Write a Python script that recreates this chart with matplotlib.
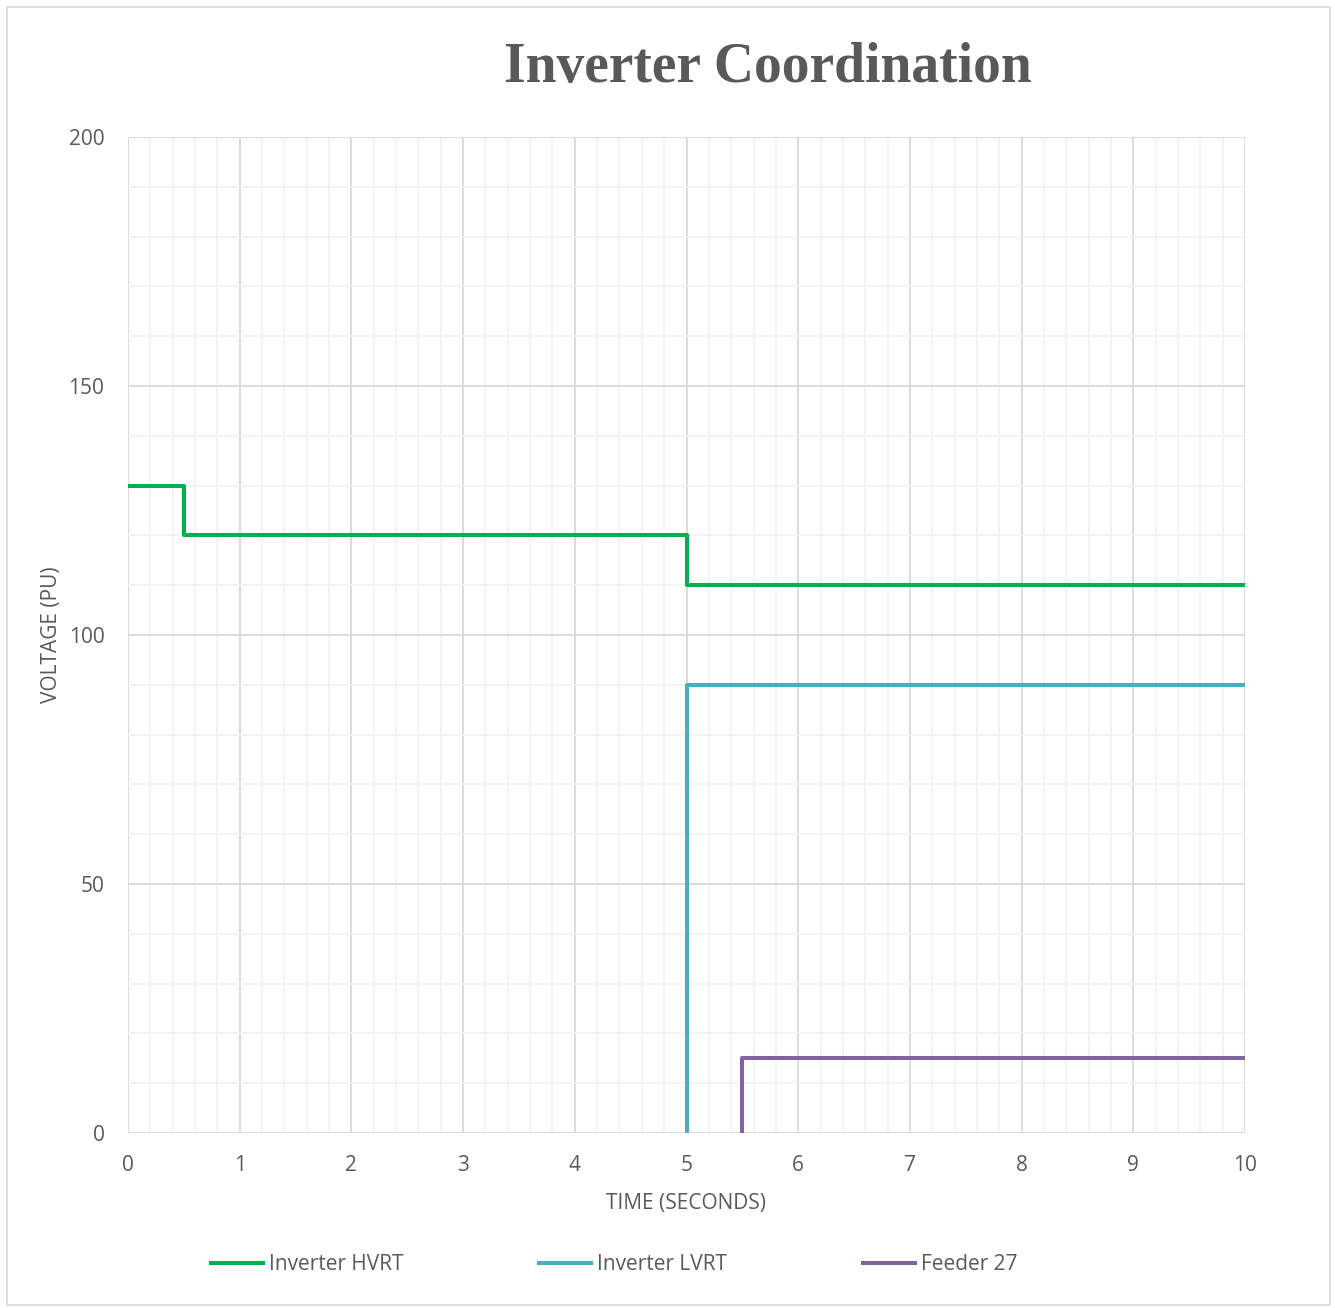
import matplotlib
matplotlib.use("Agg")
import matplotlib.pyplot as plt
from matplotlib.patches import Rectangle
from matplotlib.ticker import MultipleLocator

hvrt_t = [0, 0.5, 0.5, 5, 5, 10]
hvrt_v = [130, 130, 120, 120, 110, 110]
lvrt_t = [5, 5, 10]
lvrt_v = [0, 90, 90]
f27_t = [5.5, 5.5, 10]
f27_v = [0, 15, 15]
x_ticks = [0, 1, 2, 3, 4, 5, 6, 7, 8, 9, 10]
y_ticks = [0, 50, 100, 150, 200]

W, H = 1335, 1308
fig = plt.figure(figsize=(W / 100, H / 100), dpi=100)
fig.patches.append(Rectangle((7 / W, 3 / H), 1323 / W, 1298 / H, transform=fig.transFigure,
                             fill=False, edgecolor="#D9D9D9", linewidth=1.2))
ax = fig.add_axes([128 / W, 1 - 1133 / H, (1245 - 128) / W, (1133 - 137) / H])

txt = "#595959"
sans = ["Open Sans", "DejaVu Sans"]

ax.plot(hvrt_t, hvrt_v, color="#00B050", lw=2.9, label="Inverter HVRT", zorder=3)
ax.plot(lvrt_t, lvrt_v, color="#4BACC6", lw=2.9, label="Inverter LVRT", zorder=3)
ax.plot(f27_t, f27_v, color="#8064A2", lw=2.9, label="Feeder 27", zorder=3)

ax.set_xlim(0, 10)
ax.set_ylim(0, 200)
ax.set_xticks(x_ticks)
ax.set_yticks(y_ticks)
ax.xaxis.set_minor_locator(MultipleLocator(0.2))
ax.yaxis.set_minor_locator(MultipleLocator(10))
ax.grid(which="major", color="#D9D9D9", lw=1.3)
ax.grid(which="minor", color="#F2F2F2", lw=1.3)
ax.set_axisbelow(True)
for s in ax.spines.values():
    s.set_visible(False)
ax.tick_params(which="both", length=0)
ax.tick_params(axis="x", pad=16, labelsize=15, labelcolor=txt)
ax.tick_params(axis="y", pad=17, labelsize=15, labelcolor=txt)
for lab in ax.get_xticklabels() + ax.get_yticklabels():
    lab.set_family(sans)

ax.set_xlabel("TIME (SECONDS)", fontsize=15, color=txt, family=sans, labelpad=12)
ax.set_ylabel("VOLTAGE (PU)", fontsize=15, color=txt, family=sans, labelpad=5)

fig.text(768 / W, 1 - 68 / H, "Inverter Coordination", ha="center", va="center",
         fontsize=40, fontweight="bold", color=txt, family=["Liberation Serif", "DejaVu Serif"])

leg = fig.legend(loc="center", bbox_to_anchor=(614 / W, 1 - 1265 / H), ncol=3, frameon=False,
                 prop={"family": sans, "size": 15}, handlelength=2.5, columnspacing=6.5,
                 handletextpad=0.3)
for t in leg.get_texts():
    t.set_color(txt)

fig.savefig("out.png", dpi=100)
